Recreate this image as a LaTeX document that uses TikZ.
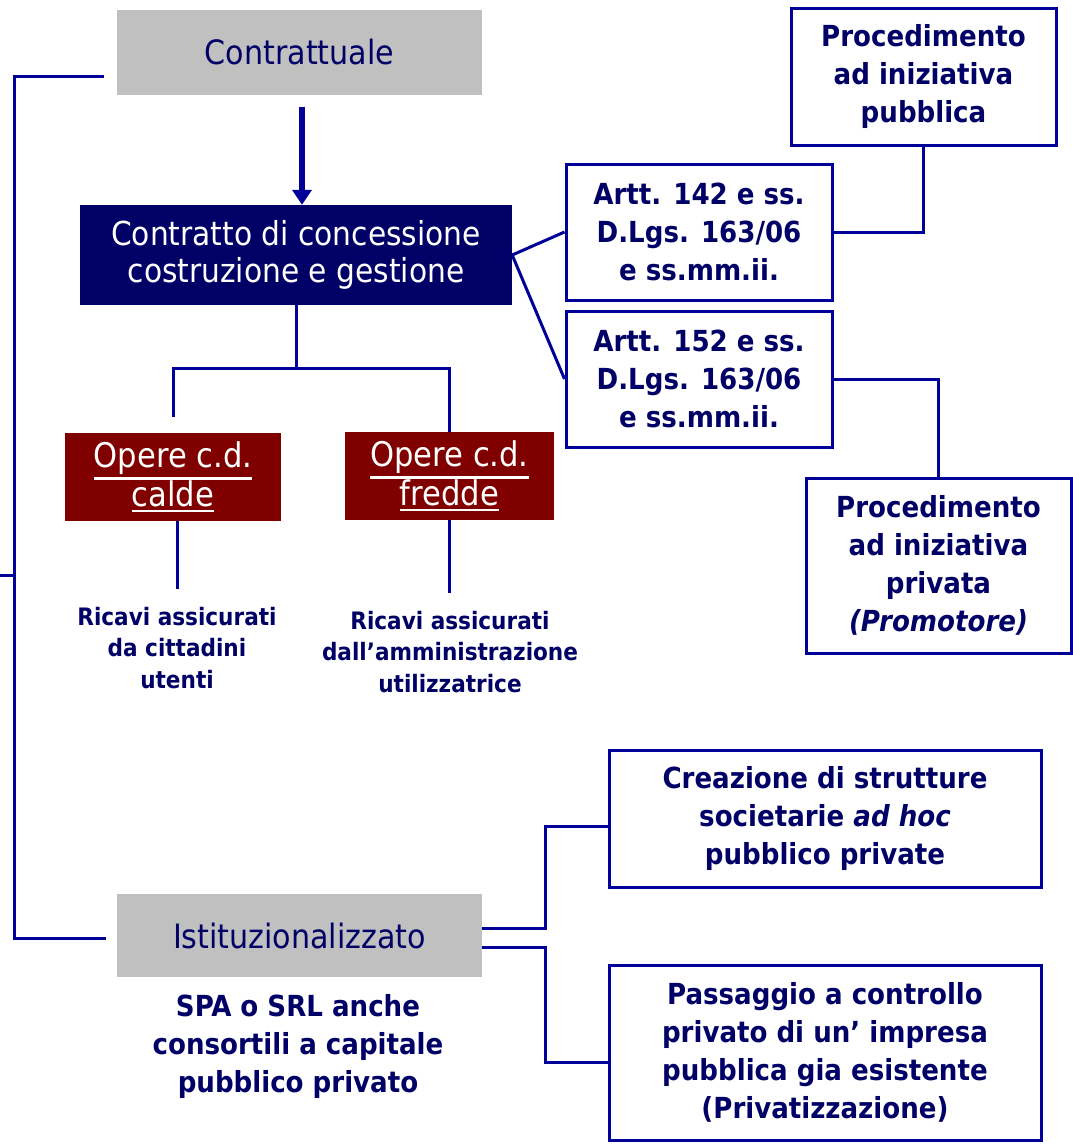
\documentclass[tikz,border=0pt]{standalone}
\usepackage{fontspec}
\setmainfont{DejaVu Sans Condensed}
\usepackage{tikz}
\usetikzlibrary{positioning}
\usetikzlibrary{arrows.meta}
\definecolor{navytext}{HTML}{000066}
\definecolor{navyline}{HTML}{000099}
\definecolor{boxgrey}{HTML}{C0C0C0}
\definecolor{opered}{HTML}{800000}
\newcommand\opul[1]{\leavevmode\vtop{\hbox{#1}\kern2.5pt\hrule height 2.5pt}}

\begin{document}
\begin{tikzpicture}[x=1pt, y=-1pt,
  grey/.style = {fill=boxgrey, text=navytext, minimum width=365pt, minimum height=85pt, inner sep=0pt, font=\fontsize{33.5}{38}\selectfont},
  concess/.style = {fill=navytext, text=white, inner sep=0pt, align=center, font=\fontsize{33}{37}\selectfont},
  opera/.style = {fill=opered, text=white, minimum height=88pt, inner sep=0pt, align=center, font=\fontsize{34}{34}\selectfont},
  main/.style = {draw=navyline, line width=3pt, text=navytext, inner sep=0pt, align=center, font=\bfseries\fontsize{29}{38}\selectfont},
  note/.style = {text=navytext, align=center, inner sep=0pt, font=\bfseries\fontsize{29}{38}\selectfont},
  small/.style = {note, font=\bfseries\fontsize{24}{31.5}\selectfont},
  conn/.style = {draw=navyline, line width=3pt}]
\useasboundingbox (0,0) rectangle (1073,1144);

\node[grey] (contr) at (299.5,52) {Contrattuale};
\node[concess, minimum width=432pt, minimum height=100pt] (conc) at (296,255) {Contratto di concessione\\costruzione e gestione};
\node[opera, minimum width=216pt] (calde) at (173,477) {\opul{Opere c.d.}\\\opul{calde}};
\node[opera, minimum width=209pt] (fredde) at (449.5,476) {\opul{Opere c.d.}\\\opul{fredde}};
\node[small] (ric1) at (177,648) {Ricavi assicurati\\da cittadini\\utenti};
\node[small] (ric2) at (450,652) {Ricavi assicurati\\dall’amministrazione\\utilizzatrice};

\node[main, minimum width=266pt, minimum height=136pt] (art142) at (699,232) {Artt. 142 e ss.\\D.Lgs. 163/06\\e ss.mm.ii.};
\node[main, minimum width=266pt, minimum height=136pt] (art152) [below=8pt of art142] {Artt. 152 e ss.\\D.Lgs. 163/06\\e ss.mm.ii.};
\node[main, minimum width=265pt, minimum height=137pt] (pubbl) at (923.5,76.5) {Procedimento\\ad iniziativa\\pubblica};
\node[main, minimum width=265pt, minimum height=175pt] (priv) at (938.5,565.5) {Procedimento\\ad iniziativa\\privata\\\textit{(Promotore)}};

\node[grey, minimum height=83pt] (ist) at (299.5,935.5) {Istituzionalizzato};
\node[note] (spa) at (298,1046) {SPA o SRL anche\\consortili a capitale\\pubblico privato};
\node[main, minimum width=432pt, minimum height=137pt] (creaz) at (825,818.5) {Creazione di strutture\\societarie \textit{ad hoc}\\pubblico private};
\node[main, minimum width=432pt, minimum height=175pt] (pass) [below=75pt of creaz] {Passaggio a controllo\\privato di un’ impresa\\pubblica gia esistente\\(Privatizzazione)};

\draw[navyline, line width=6pt, -{Triangle[width=19pt,length=15pt]}] ([xshift=2.5pt,yshift=-12pt]contr.south) -- ([xshift=2.5pt]contr.south |- conc.north);

% bracket on the left
\coordinate (brk) at (14,575);
\draw[conn] ([xshift=-13pt,yshift=-24pt]contr.west) -| (brk) |- ([xshift=-11pt,yshift=-2.5pt]ist.west);
\draw[conn] (0,575) -- (brk);

\draw[conn] (conc.south) -- ++(0,63) coordinate (fork);
\draw[conn] ([yshift=16pt]calde.north) |- (fork) -| (fredde.north);
\draw[conn] (calde.south -| ric1.center) -- ++(0,68);
\draw[conn] (fredde.south) -- ++(0,73);

\draw[conn] (conc.east) -- (art142.west);
\draw[conn] (conc.east) -- (art152.west);
\draw[conn] (art142.east) -| (pubbl.south);
\draw[conn] (art152.east) -| (priv.north);

\draw[conn] ([yshift=7.5pt]ist.east) -- ++(63,0) |- ([yshift=-7.5pt]creaz.west);
\draw[conn] ([yshift=-11.5pt]ist.east) -- ++(63,0) |- ([yshift=-9.5pt]pass.west);
\end{tikzpicture}
\end{document}
